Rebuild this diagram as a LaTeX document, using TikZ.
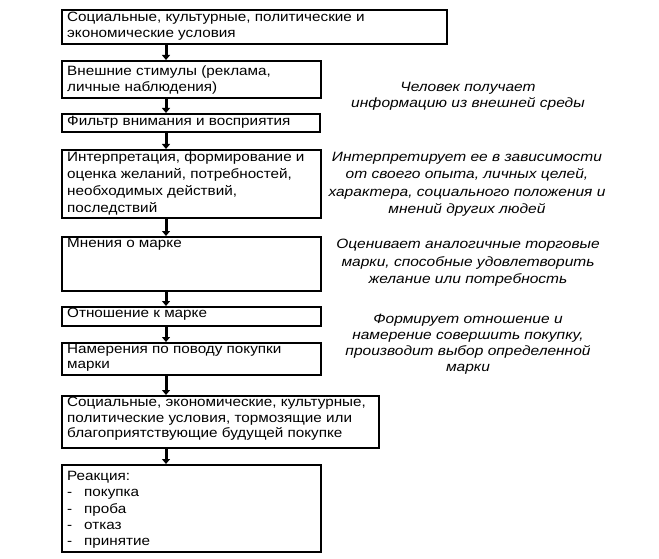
\documentclass[tikz,border=0pt]{standalone}
\usepackage{fontspec}
\setmainfont{Liberation Sans}[FakeStretch=1.13]
\newfontfamily\notefont{Liberation Sans}[FakeStretch=1.15]
\usetikzlibrary{arrows.meta}
\tikzset{
  box/.style={draw=black, line width=1.6pt, rectangle, inner sep=0pt, anchor=north west},
  txt/.style={anchor=north west, inner sep=0pt, align=left, font=\fontsize{13.5}{15.5}\selectfont},
  note/.style={anchor=north, inner sep=0pt, align=center, font=\fontsize{13.5}{17}\notefont\itshape},
  flow/.style={line width=3pt, -{Triangle[length=5pt,width=8pt]}, black}
}
\begin{document}
\begin{tikzpicture}[x=1pt,y=-1pt]
\useasboundingbox (0,0) rectangle (659,559);
% boxes
\node[box, minimum width=385pt, minimum height=34pt] (b1) at (61,9) {};
\node[box, minimum width=259pt, minimum height=37pt] (b2) at (61,60) {};
\node[box, minimum width=258pt, minimum height=18pt] (b3) at (61,113) {};
\node[box, minimum width=259pt, minimum height=68pt] (b4) at (61,149) {};
\node[box, minimum width=259pt, minimum height=54pt] (b5) at (61,236) {};
\node[box, minimum width=259pt, minimum height=19pt] (b6) at (61,306) {};
\node[box, minimum width=259pt, minimum height=32pt] (b7) at (61,342) {};
\node[box, minimum width=317pt, minimum height=52pt] (b8) at (61,395) {};
\node[box, minimum width=259pt, minimum height=87pt] (b9) at (61,464) {};
% box texts
\node[txt] (t1) at (67,12) {Социальные, культурные, политические и\\экономические условия};
\node[txt] (t2) at (67,66) {Внешние стимулы (реклама,\\личные наблюдения)};
\node[txt] (t3) at (67,116) {Фильтр внимания и восприятия};
\node[txt, font=\fontsize{13.5}{17}\selectfont] (t4) at (67,152) {Интерпретация, формирование и\\оценка желаний, потребностей,\\необходимых действий,\\последствий};
\node[txt] (t5) at (67,238) {Мнения о марке};
\node[txt] (t6) at (67,308) {Отношение к марке};
\node[txt] (t7) at (67,344) {Намерения по поводу покупки\\марки};
\node[txt] (t8) at (67,397) {Социальные, экономические, культурные,\\политические условия, тормозящие или\\благоприятствующие будущей покупке};
\node[txt, font=\fontsize{13.5}{16.3}\selectfont] (t9) at (67,471) {Реакция:\\\makebox[17pt][l]{-}покупка\\\makebox[17pt][l]{-}проба\\\makebox[17pt][l]{-}отказ\\\makebox[17pt][l]{-}принятие};
% notes
\node[note, font=\fontsize{13.5}{16}\notefont\itshape] (n1) at (468,82) {Человек получает\\информацию из внешней среды};
\node[note, font=\fontsize{13.5}{17.3}\notefont\itshape] (n2) at (467,152) {Интерпретирует ее в зависимости\\от своего опыта, личных целей,\\характера, социального положения и\\мнений других людей};
\node[note, font=\fontsize{13.5}{17.5}\notefont\itshape] (n3) at (468,239) {Оценивает аналогичные торговые\\марки, способные удовлетворить\\желание или потребность};
\node[note, font=\fontsize{13.5}{16}\notefont\itshape] (n4) at (468,314) {Формирует отношение и\\намерение совершить покупку,\\производит выбор определенной\\марки};
% arrows
\coordinate (ax) at (166,0);
\draw[flow] (b1.south -| ax) -- (b2.north -| ax);
\draw[flow] (b2.south -| ax) -- (b3.north -| ax);
\draw[flow] (b3.south -| ax) -- (b4.north -| ax);
\draw[flow] (b4.south -| ax) -- (b5.north -| ax);
\draw[flow] (b5.south -| ax) -- (b6.north -| ax);
\draw[flow] (b6.south -| ax) -- (b7.north -| ax);
\draw[flow] (b7.south -| ax) -- (b8.north -| ax);
\draw[flow] (b8.south -| ax) -- (b9.north -| ax);
\end{tikzpicture}
\end{document}
